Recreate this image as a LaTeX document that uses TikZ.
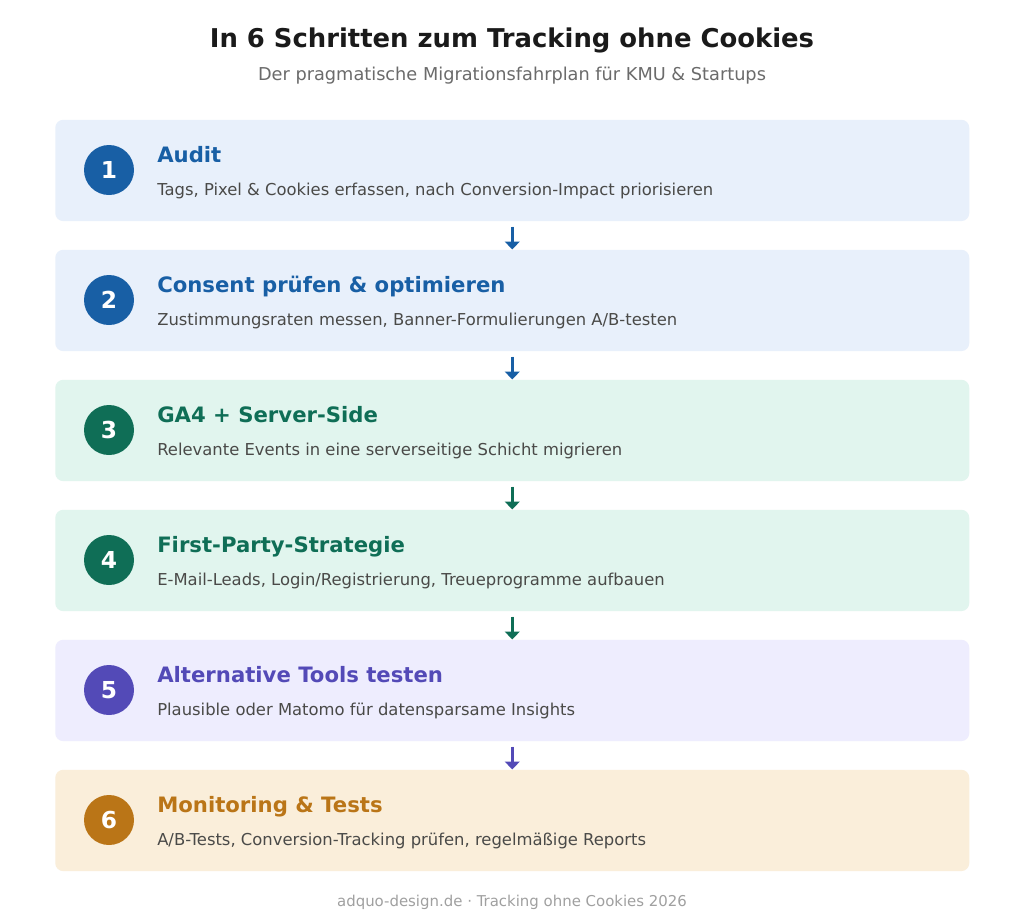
\documentclass[tikz,border=0pt]{standalone}
\usepackage{fontspec}
\setmainfont{DejaVu Sans}
\usetikzlibrary{arrows.meta}
\definecolor{cblue}{HTML}{185FA5}\definecolor{fblue}{HTML}{E8F0FB}
\definecolor{cgreen}{HTML}{0F6E56}\definecolor{fgreen}{HTML}{E1F5EE}
\definecolor{cpurple}{HTML}{534AB7}\definecolor{fpurple}{HTML}{EEEDFE}
\definecolor{camber}{HTML}{BA7517}\definecolor{famber}{HTML}{FAEEDA}
\definecolor{ttl}{HTML}{1A1A1A}\definecolor{sub}{HTML}{6B6B6B}
\definecolor{desc}{HTML}{4A4A48}\definecolor{foot}{HTML}{A0A0A0}
\begin{document}
\begin{tikzpicture}[x=0.75pt,y=-0.75pt,
  stepbox/.style={rounded corners=6pt,draw=none,minimum width=685.5pt,minimum height=76pt,inner sep=0pt,anchor=north west},
  numdot/.style={circle,minimum size=37.5pt,inner sep=0pt,text=white,font=\bfseries\fontsize{17.5}{19}\selectfont},
  steptitle/.style={anchor=base west,inner sep=0pt,font=\bfseries\fontsize{15.9}{18}\selectfont},
  stepdesc/.style={anchor=base west,inner sep=0pt,text=desc,font=\fontsize{12.3}{14}\selectfont},
  flow/.style={line width=1.9pt,-{Triangle[width=11pt,length=6pt]}}]
\fill[white] (0,0) rectangle (1024,915);
\useasboundingbox (0,0) rectangle (1024,915);
\node[anchor=base,inner sep=0pt,text=ttl,font=\bfseries\fontsize{19.4}{22}\selectfont] (title) at (512,47) {In 6 Schritten zum Tracking ohne Cookies};
\node[anchor=base,inner sep=0pt,text=sub,font=\fontsize{13.3}{15}\selectfont] (subtitle) at (512,80) {Der pragmatische Migrationsfahrplan für KMU \& Startups};
\foreach \i/\c/\f/\t/\d in {
 1/cblue/fblue/Audit/{Tags, Pixel \& Cookies erfassen, nach Conversion-Impact priorisieren},
 2/cblue/fblue/{Consent prüfen \& optimieren}/{Zustimmungsraten messen, Banner-Formulierungen A/B-testen},
 3/cgreen/fgreen/{GA4 + Server-Side}/{Relevante Events in eine serverseitige Schicht migrieren},
 4/cgreen/fgreen/{First-Party-Strategie}/{E-Mail-Leads, Login/Registrierung, Treueprogramme aufbauen},
 5/cpurple/fpurple/{Alternative Tools testen}/{Plausible oder Matomo für datensparsame Insights},
 6/camber/famber/{Monitoring \& Tests}/{A/B-Tests, Conversion-Tracking prüfen, regelmäßige Reports}}{
  \pgfmathsetmacro{\yy}{120+130*(\i-1)}
  \node[stepbox,fill=\f] (b\i) at (55,\yy-0.5) {};
  \node[numdot,fill=\c] (n\i) at (109,\yy+50) {\i};
  \node[steptitle,text=\c] (t\i) at (157,\yy+42) {\t};
  \node[stepdesc] (d\i) at (157,\yy+75) {\d};
}
\foreach \i/\j/\c in {1/2/cblue,2/3/cblue,3/4/cgreen,4/5/cgreen,5/6/cpurple}{
  \draw[flow,draw=\c,fill=\c] ([yshift=-4pt]b\i.south) -- (b\j.north);
}
\node[anchor=base,inner sep=0pt,text=foot,font=\fontsize{11.2}{13}\selectfont] (footer) at (512,906) {adquo-design.de · Tracking ohne Cookies 2026};
\end{tikzpicture}
\end{document}
